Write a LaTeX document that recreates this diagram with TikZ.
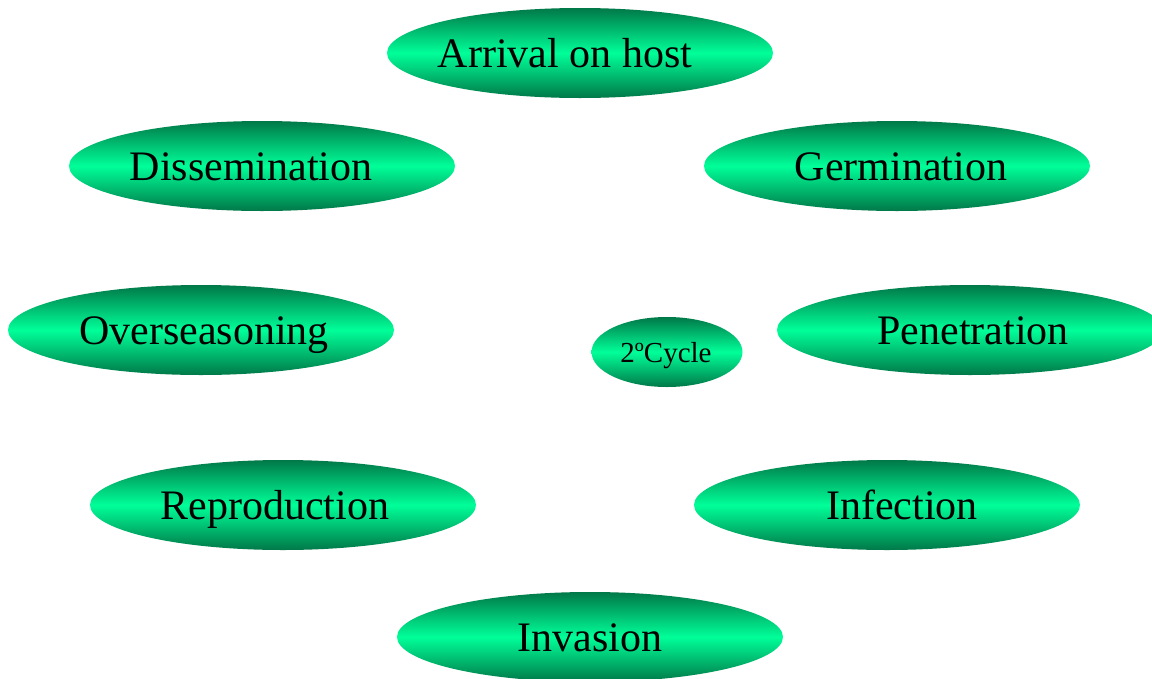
\documentclass[tikz,border=0pt]{standalone}
\usepackage{fontspec}
\setmainfont{Liberation Serif}
\usetikzlibrary{shapes.geometric}
\definecolor{gdark}{RGB}{0,120,72}
\definecolor{gbright}{RGB}{0,255,153}
\tikzset{
  ell/.style={ellipse, inner sep=0pt, minimum width=386pt, minimum height=90pt,
    top color=gdark, bottom color=gdark, middle color=gbright, draw=none},
  smallell/.style={ell, minimum width=151pt, minimum height=70pt},
  lbl/.style={inner sep=0pt, anchor=base, font=\fontsize{42}{48}\selectfont, text=black},
  smalllbl/.style={inner sep=0pt, anchor=base, font=\fontsize{29}{34}\selectfont, text=black}
}
\begin{document}
\begin{tikzpicture}[x=1pt,y=-1pt]
\useasboundingbox (0,0) rectangle (1152,678);
\node[ell] (arrE) at (580,53) {};
\node[lbl] (arr) at (565,67) {Arrival on host};
\node[ell] (disE) at (262,166) {};
\node[lbl] (dis) at (251,180) {Dissemination};
\node[ell] (gerE) at (897,166) {};
\node[lbl] (ger) at (901,180) {Germination};
\node[ell] (ovrE) at (201,330) {};
\node[lbl] (ovr) at (204,344) {Overseasoning};
\node[ell] (penE) at (970,330) {};
\node[lbl] (pen) at (973,344) {Penetration};
\node[smallell] (cycE) at (667,352) {};
\node[smalllbl] (cyc) at (666,362) {2ºCycle};
\node[ell] (repE) at (283,505) {};
\node[lbl] (rep) at (275,519) {Reproduction};
\node[ell] (infE) at (887,505) {};
\node[lbl] (inf) at (902,519) {Infection};
\node[ell] (invE) at (590,637) {};
\node[lbl] (inv) at (590,651) {Invasion};
\end{tikzpicture}
\end{document}
